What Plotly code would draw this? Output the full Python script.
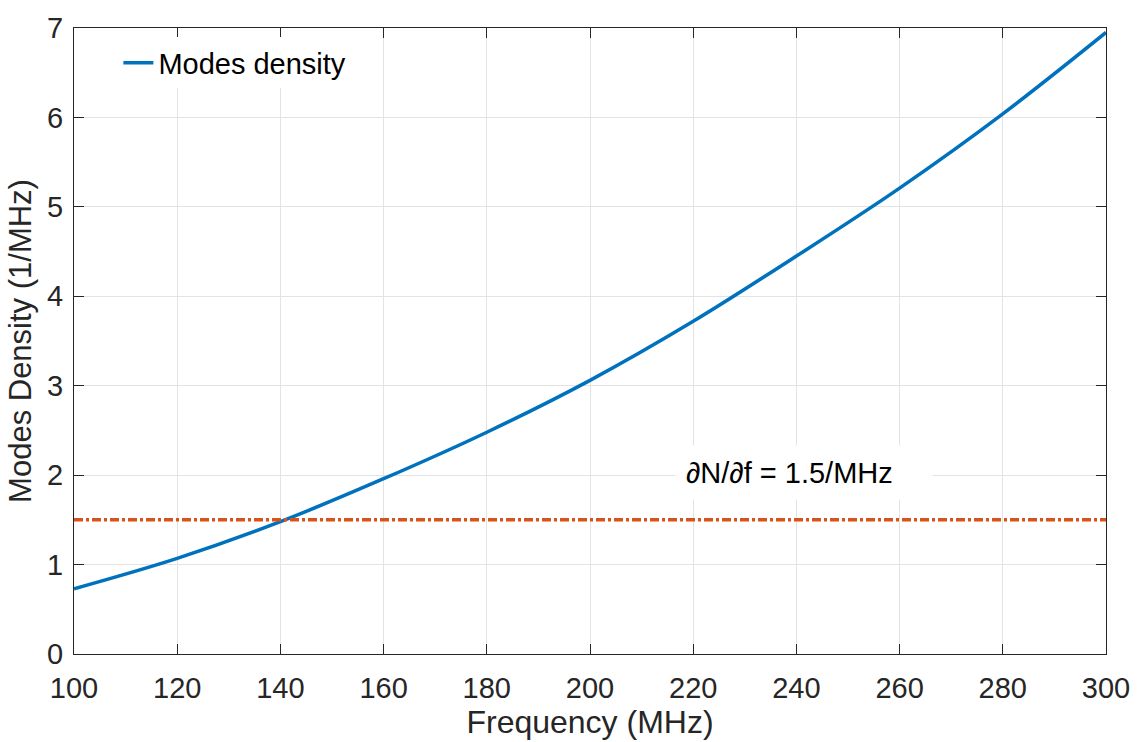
import plotly.graph_objects as go

# Data
freq_mhz = [100, 120, 140, 160, 180, 200, 220, 240, 260, 280, 300]
modes_density = [0.73, 1.07, 1.48, 1.96, 2.48, 3.06, 3.72, 4.45, 5.21, 6.04, 6.95]
threshold_x = [100, 300]
threshold_y = [1.5, 1.5]
x_ticks = [100, 120, 140, 160, 180, 200, 220, 240, 260, 280, 300]
y_ticks = [0, 1, 2, 3, 4, 5, 6, 7]

FONT = "Liberation Sans, Arial, Helvetica, sans-serif"
AX = "#262626"

fig = go.Figure()
fig.add_trace(go.Scatter(
    x=freq_mhz, y=modes_density, mode="lines", name="Modes density",
    line=dict(color="#0072BD", width=3.5, shape="spline"),
))
fig.add_trace(go.Scatter(
    x=threshold_x, y=threshold_y, mode="lines", showlegend=False,
    line=dict(color="#D95319", width=3.5, dash="9px,3px,3px,3px"),
))

axis_common = dict(
    showline=True, linecolor=AX, linewidth=1.3, mirror="ticks",
    ticks="inside", ticklen=10, tickwidth=1.3, tickcolor=AX,
    showgrid=True, gridcolor="#E3E3E3", gridwidth=1,
    zeroline=False,
    tickfont=dict(family=FONT, size=29, color=AX),
)

fig.update_xaxes(
    range=[100, 300], tickvals=x_ticks, ticktext=[str(v) for v in x_ticks],
    title=dict(text="Frequency (MHz)", font=dict(family=FONT, size=32, color=AX), standoff=4),
    ticklabelstandoff=8,
    **axis_common,
)
fig.update_yaxes(
    range=[0, 7], tickvals=y_ticks, ticktext=[str(v) for v in y_ticks],
    title=dict(text="Modes Density (1/MHz)", font=dict(family=FONT, size=31, color=AX), standoff=6),
    ticklabelstandoff=4,
    **axis_common,
)

fig.add_annotation(
    x=216.5, y=2.035, xref="x", yref="y", xanchor="left", yanchor="middle",
    text="\u2202N/\u2202f = 1.5/MHz", showarrow=False,
    font=dict(family=FONT, size=29, color="#000000"),
    bgcolor="#FFFFFF", width=236, height=33, align="left", borderpad=10,
)

fig.update_layout(
    width=1142, height=742,
    margin=dict(l=74, r=33, t=23, b=87),
    paper_bgcolor="#FFFFFF", plot_bgcolor="#FFFFFF",
    showlegend=True,
    legend=dict(
        x=0.043, y=0.985, xanchor="left", yanchor="top",
        bgcolor="#FFFFFF", borderwidth=0,
        font=dict(family=FONT, size=29, color="#000000"),
    ),
    font=dict(family=FONT),
)

fig.write_html("out.html")
